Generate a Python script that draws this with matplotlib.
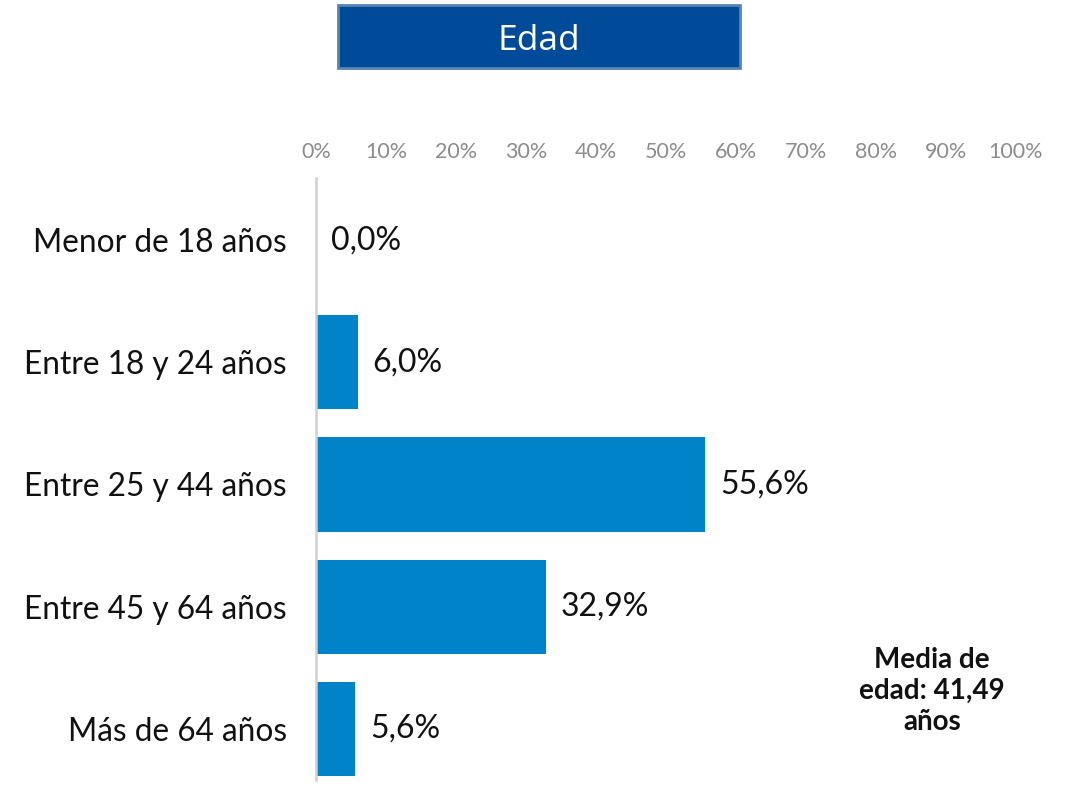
import matplotlib
matplotlib.use("Agg")
import matplotlib.pyplot as plt
from matplotlib.patches import Rectangle

categories = ["Menor de 18 años", "Entre 18 y 24 años", "Entre 25 y 44 años",
              "Entre 45 y 64 años", "Más de 64 años"]
values = [0.0, 6.0, 55.6, 32.9, 5.6]
tick_values = [0, 10, 20, 30, 40, 50, 60, 70, 80, 90, 100]
tick_labels = [f"{t}%" for t in tick_values]
title_text = "Edad"
note_text = "Media de\nedad: 41,49\naños"

W, H = 1074, 786
fig = plt.figure(figsize=(W / 100, H / 100), dpi=100)
plt.rcParams["font.family"] = ["Lato", "DejaVu Sans"]

# Bar area in pixel coordinates
ax_left, ax_right = 316, 1016
ax_top, ax_bottom = 178, 780
ax = fig.add_axes([ax_left / W, 1 - ax_bottom / H,
                   (ax_right - ax_left) / W, (ax_bottom - ax_top) / H])

bar_color = "#0083C8"
ypos = list(range(len(categories)))
ax.barh(ypos, values, height=0.77, color=bar_color, edgecolor="none")

ax.set_xlim(0, 100)
ax.set_ylim(4.42, -0.51)

ax.xaxis.tick_top()
ax.set_xticks(tick_values)
ax.set_xticklabels(tick_labels, color="#8C8C8C", fontsize=15.5)
ax.tick_params(axis="x", length=0, pad=11.5)
ax.set_yticks(ypos)
ax.set_yticklabels(categories, fontsize=22.8, color="#111111")
ax.tick_params(axis="y", length=0, pad=21)

for side in ["top", "right", "bottom"]:
    ax.spines[side].set_visible(False)
ax.spines["left"].set_color("#D0D0D0")
ax.spines["left"].set_linewidth(1.8)

for y, v in zip(ypos, values):
    ax.text(v + 2.1, y, f"{v:.1f}%".replace(".", ","), va="center", ha="left",
            fontsize=23, color="#111111")

# Average-age note
fig.text(932 / W, 1 - 691 / H, note_text, ha="center", va="center",
         fontsize=20, fontweight="bold", color="#111111", linespacing=1.25)

# Title banner
bx0, by0, bx1, by1 = 338, 5, 740, 68
fig.patches.append(Rectangle((bx0 / W, 1 - by1 / H), (bx1 - bx0) / W, (by1 - by0) / H,
                             transform=fig.transFigure, facecolor="#004A9A",
                             edgecolor="#5A82B4", linewidth=2))
fig.text((bx0 + bx1) / 2 / W, 1 - 41 / H, title_text, ha="center", va="center",
         fontsize=25.5, color="white", family=["Open Sans", "DejaVu Sans"])

fig.savefig("out.png", dpi=100)
